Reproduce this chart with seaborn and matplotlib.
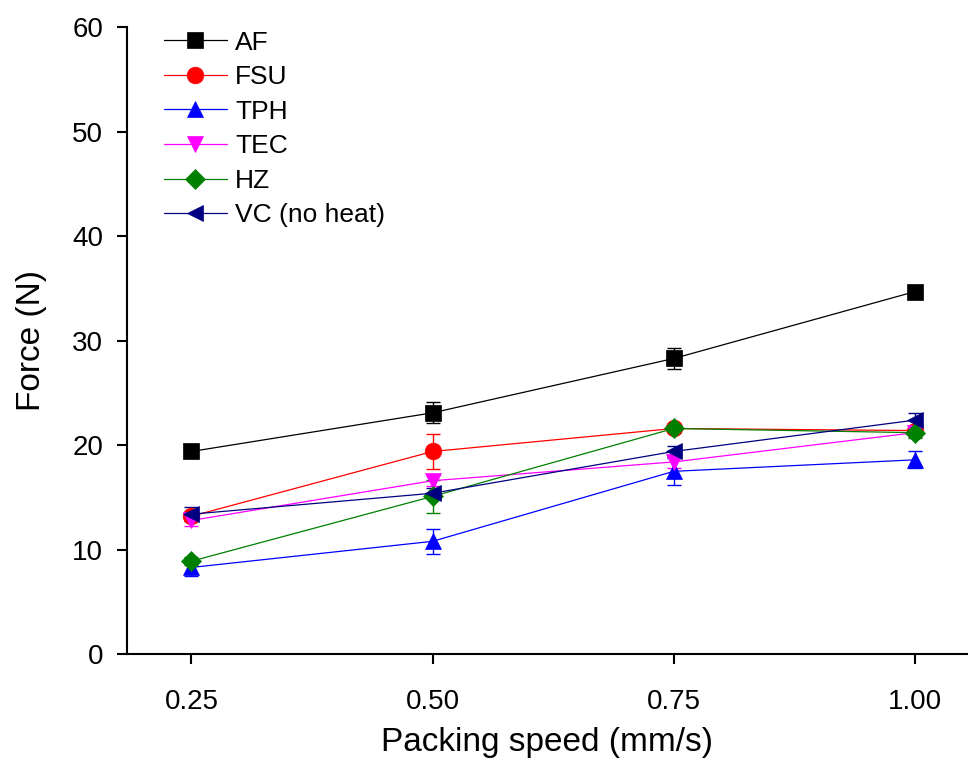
import matplotlib
matplotlib.use("Agg")
import matplotlib.pyplot as plt
import seaborn as sns
import numpy as np

speeds = [0.25, 0.50, 0.75, 1.00]
samples = ["AF", "FSU", "TPH", "TEC", "HZ", "VC (no heat)"]
af = [19.4, 23.1, 28.3, 34.7]
fsu = [13.2, 19.4, 21.6, 21.4]
tph = [8.3, 10.8, 17.5, 18.6]
tec = [12.8, 16.6, 18.4, 21.2]
hz = [8.9, 15.1, 21.6, 21.2]
vc = [13.4, 15.4, 19.4, 22.4]
af_err = [0.3, 1.0, 1.0, 0.3]
fsu_err = [0.4, 1.7, 0.3, 0.4]
tph_err = [0.8, 1.2, 1.3, 0.8]
tec_err = [0.5, 0.5, 0.6, 0.4]
hz_err = [0.4, 1.6, 0.3, 0.5]
vc_err = [0.7, 0.5, 0.5, 0.7]

values = [af, fsu, tph, tec, hz, vc]
errors = [af_err, fsu_err, tph_err, tec_err, hz_err, vc_err]
colors = ["#000000", "#FF0000", "#0000FF", "#FF00FF", "#008000", "#000080"]
markers = ["s", "o", "^", "v", "D", "<"]
msizes = [11, 12, 12, 12, 10, 12]

sns.set_theme(style="ticks")
plt.rcParams["font.family"] = ["Liberation Sans", "DejaVu Sans"]

fig = plt.figure(figsize=(9.68, 7.58), dpi=100)
ax = fig.add_axes([0.131, 0.137, 0.869, 0.827])

for name, v, e, c, m, ms in zip(samples, values, errors, colors, markers, msizes):
    ax.errorbar(speeds, v, yerr=e, fmt="none", ecolor=c, elinewidth=1.0,
                capsize=5, capthick=1.0, zorder=2)
    sns.lineplot(x=speeds, y=v, color=c, marker=m, markersize=ms,
                 markeredgecolor=c, markeredgewidth=0.5, linewidth=0.9,
                 label=name, ax=ax, zorder=3)

ax.set_xlim(0.183, 1.055)
ax.set_ylim(0, 60)
ax.set_xticks(speeds)
ax.set_xticklabels(["0.25", "0.50", "0.75", "1.00"])
ax.set_yticks([0, 10, 20, 30, 40, 50, 60])
ax.tick_params(axis="both", direction="out", length=7, width=1.5,
               labelsize=20, colors="black")
ax.tick_params(axis="x", pad=18)
ax.tick_params(axis="y", pad=10)
for s in ["top", "right"]:
    ax.spines[s].set_visible(False)
for s in ["left", "bottom"]:
    ax.spines[s].set_linewidth(1.5)
    ax.spines[s].set_color("black")

ax.set_xlabel("Packing speed (mm/s)", fontsize=24, labelpad=9, color="black")
ax.set_ylabel("Force (N)", fontsize=24, labelpad=18, color="black")

leg = ax.legend(loc="upper left", bbox_to_anchor=(0.025, 1.02), frameon=False,
                fontsize=19, handlelength=2.4, labelspacing=0.4, handletextpad=0.3,
                borderaxespad=0.2)
for t in leg.get_texts():
    t.set_color("black")

fig.savefig("out.png", dpi=100)
